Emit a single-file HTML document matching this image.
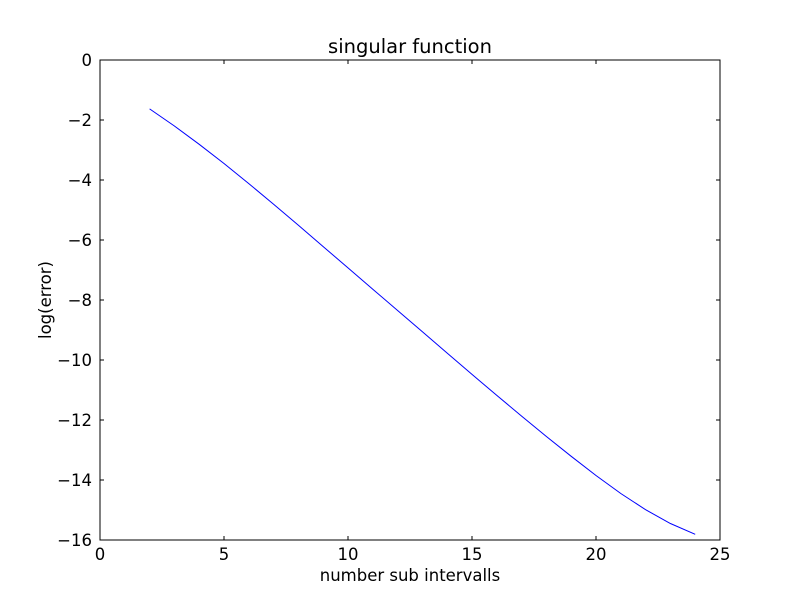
<!DOCTYPE html>
<html><head><meta charset="utf-8"><style>
body{margin:0;background:#fff;}
svg text{font-family:"DejaVu Sans","Liberation Sans",sans-serif;}
</style></head><body>
<svg width="800" height="600" xmlns="http://www.w3.org/2000/svg">
<rect width="800" height="600" fill="#fff"/>
<g id="plot"></g>
</svg>
<script>
const xs=[2,3,4,5,6,7,8,9,10,11,12,13,14,15,16,17,18,19,20,21,22,23,24];
const ys=[-1.63,-2.20,-2.81,-3.45,-4.12,-4.81,-5.51,-6.22,-6.93,-7.64,-8.35,-9.06,-9.77,-10.48,-11.18,-11.87,-12.55,-13.21,-13.85,-14.45,-14.99,-15.45,-15.81];
const xTicks=[0,5,10,15,20,25];
const yTicks=[0,-2,-4,-6,-8,-10,-12,-14,-16];
const L=100,R=720,T=60,B=540;
const sx=v=>L+(v-0)/(25-0)*(R-L);
const sy=v=>T+(0-v)/(0-(-16))*(B-T);
const NS='http://www.w3.org/2000/svg';
const g=document.getElementById('plot');
function mk(t,a){const e=document.createElementNS(NS,t);for(const k in a)e.setAttribute(k,a[k]);g.appendChild(e);return e;}
const fr=mk('rect',{x:L,y:T,width:R-L,height:B-T,fill:'none',stroke:'#000','stroke-width':1});


xTicks.forEach(v=>{const x=sx(v);
 const t1=mk('line',{x1:x,y1:B,x2:x,y2:B-4,stroke:'#000'});
 
 
 const t2=mk('line',{x1:x,y1:T,x2:x,y2:T+4,stroke:'#000'});
 
 
 const tx=mk('text',{x:x,y:B+20,'text-anchor':'middle','font-size':16.5});tx.textContent=String(v);
 
 
});
yTicks.forEach(v=>{const y=sy(v);
 const t1=mk('line',{x1:L,y1:y,x2:L+4,y2:y,stroke:'#000'});
 
 
 const t2=mk('line',{x1:R,y1:y,x2:R-4,y2:y,stroke:'#000'});
 
 
 const tx=mk('text',{x:L-8,y:y+6,'text-anchor':'end','font-size':16.5});tx.textContent=(v<0?'\u2212'+(-v):String(v));
 
 
});
const pts=xs.map((x,i)=>sx(x).toFixed(2)+','+sy(ys[i]).toFixed(2)).join(' ');
const ln=mk('polyline',{points:pts,fill:'none',stroke:'#0000ff','stroke-width':1});


const ti=mk('text',{x:410,y:53,'text-anchor':'middle','font-size':19.5});ti.textContent='singular function';


const xl=mk('text',{x:410,y:581,'text-anchor':'middle','font-size':16.5});xl.textContent='number sub intervalls';


const yl=mk('text',{x:51,y:300,'text-anchor':'middle','font-size':16.5,transform:'rotate(-90 51 300)'});yl.textContent='log(error)';


</script>
</body></html>
